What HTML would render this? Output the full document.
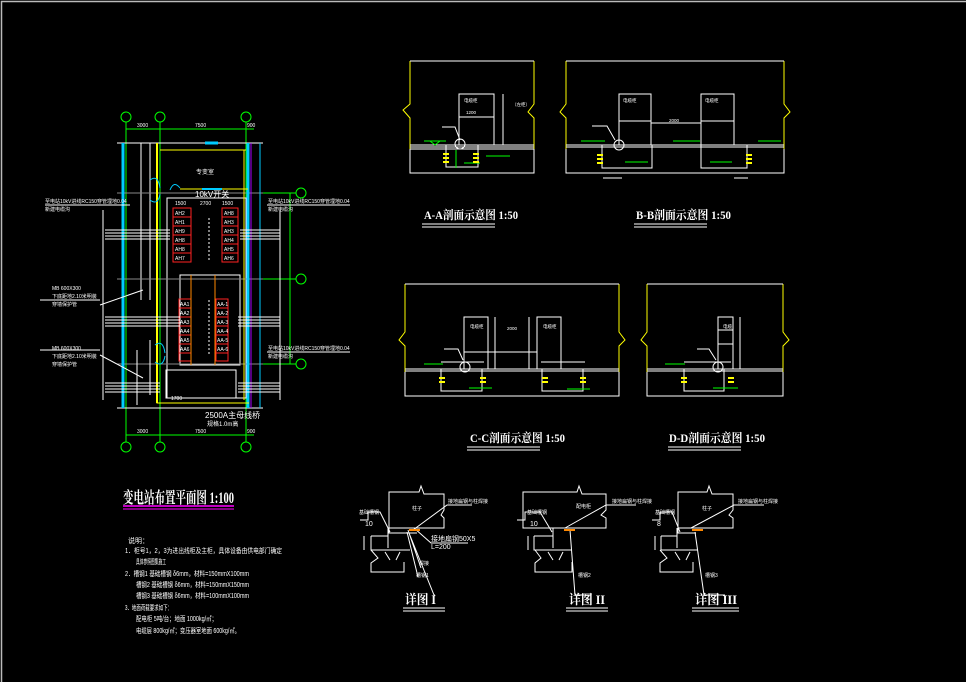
<!DOCTYPE html>
<html><head><meta charset="utf-8"><style>
html,body{margin:0;padding:0;background:#000;}
svg{display:block}
text{font-family:"Liberation Sans","Noto Sans CJK SC",sans-serif;fill:#fff}
.t{font-family:"Liberation Serif","Noto Serif CJK SC",serif;font-weight:bold}
</style></head><body>
<svg width="966" height="682" viewBox="0 0 966 682" xmlns="http://www.w3.org/2000/svg">
<rect x="0" y="0" width="966" height="682" fill="#000"/>
<path d="M1.5 682V1.5H966" stroke="#bbb" stroke-width="1.5" fill="none"/>

<g fill="none" stroke-width="1">
<g stroke="#0f0">
<line x1="126" y1="122" x2="126" y2="442"/><line x1="160" y1="122" x2="160" y2="442"/><line x1="246" y1="122" x2="246" y2="442"/>
<line x1="126" y1="129" x2="254" y2="129"/><line x1="126" y1="435" x2="254" y2="435"/>
<line x1="246" y1="193" x2="296" y2="193"/><line x1="246" y1="279" x2="296" y2="279"/><line x1="246" y1="364" x2="296" y2="364"/>
<line x1="290" y1="193" x2="290" y2="364"/>
<circle cx="126" cy="117" r="5"/><circle cx="160" cy="117" r="5"/><circle cx="246" cy="117" r="5"/>
<circle cx="126" cy="447" r="5"/><circle cx="160" cy="447" r="5"/><circle cx="246" cy="447" r="5"/>
<circle cx="301" cy="193" r="5"/><circle cx="301" cy="279" r="5"/><circle cx="301" cy="364" r="5"/>
</g>
<g stroke="#fff">
<line x1="117" y1="143" x2="263" y2="143"/><line x1="117" y1="408" x2="263" y2="408"/>
<line x1="141" y1="143" x2="141" y2="300"/><line x1="150" y1="143" x2="150" y2="300"/>
<rect x="167" y="198" width="79" height="200"/>
<rect x="180" y="275" width="35" height="90"/>
<rect x="215" y="275" width="25" height="90"/>
<line x1="117" y1="193" x2="263" y2="193" stroke="#888"/>
<line x1="117" y1="279" x2="263" y2="279" stroke="#888"/>
<line x1="117" y1="364" x2="263" y2="364" stroke="#888"/>
<line x1="137" y1="350" x2="137" y2="405"/><line x1="150" y1="340" x2="150" y2="395"/>
<rect x="166" y="370" width="70" height="28"/>
</g>
<line x1="123" y1="143" x2="123" y2="408" stroke="#0cf" stroke-width="3"/>
<line x1="248" y1="143" x2="248" y2="408" stroke="#0cf" stroke-width="3"/>
<line x1="251" y1="143" x2="251" y2="408" stroke="#a0f" stroke-width="1"/>
<line x1="260" y1="143" x2="260" y2="408" stroke="#0cf" stroke-width="1"/>
<g stroke="#ff0">
<path d="M157 143V403H249"/><path d="M160 150H246"/><path d="M180 189H248"/>
<line x1="157" y1="143" x2="157" y2="403" stroke-width="2"/>
<line x1="244" y1="150" x2="244" y2="400"/>
</g>
<line x1="205" y1="143" x2="218" y2="143" stroke="#0cf" stroke-width="3"/>
<line x1="202" y1="189" x2="222" y2="189" stroke="#0cf" stroke-width="2"/>
<path d="M150 180q8 -6 10 8M150 200q8 6 10 -6M170 190q4 -10 10 -2" stroke="#0cf"/>
<path d="M155 345q8 -6 10 8M155 362q8 6 10 -6" stroke="#0cf"/>
<g stroke="#f22">
<rect x="173" y="208" width="18" height="54"/><rect x="222" y="208" width="16" height="54"/>
<line x1="173" y1="217" x2="191" y2="217"/><line x1="173" y1="226" x2="191" y2="226"/><line x1="173" y1="235" x2="191" y2="235"/><line x1="173" y1="244" x2="191" y2="244"/><line x1="173" y1="253" x2="191" y2="253"/>
<line x1="222" y1="217" x2="238" y2="217"/><line x1="222" y1="226" x2="238" y2="226"/><line x1="222" y1="235" x2="238" y2="235"/><line x1="222" y1="244" x2="238" y2="244"/><line x1="222" y1="253" x2="238" y2="253"/>
<rect x="179" y="299" width="12" height="62"/><rect x="216" y="299" width="12" height="62"/>
<path d="M179 308h12M179 317h12M179 326h12M179 335h12M179 344h12M179 353h12M216 308h12M216 317h12M216 326h12M216 335h12M216 344h12M216 353h12"/>
</g>
<line x1="191" y1="275" x2="191" y2="365" stroke="#f80"/><line x1="215" y1="275" x2="215" y2="365" stroke="#f80"/>
<g stroke="#fff">
<path d="M105 230H170M105 233H170M105 236H170M105 239H170"/>
<path d="M240 230H280M240 233H280M240 236H280M240 239H280"/>
<path d="M105 317H180M105 320H180M105 323H180M105 326H180"/>
<path d="M238 317H280M238 320H280M238 323H280M238 326H280"/>
<path d="M105 383H160M105 386H160M105 389H160M105 392H160"/>
<path d="M238 383H280M238 386H280M238 389H280M238 392H280"/>
<line x1="103" y1="210" x2="103" y2="400"/><line x1="280" y1="210" x2="280" y2="400"/>
<path d="M45 205H130M40 300H100M40 350H100M267 205H350M267 352H350"/>
<path d="M100 305L143 290M100 355L143 378"/>
</g>
<g stroke="#fff" stroke-dasharray="2 2"><line x1="209" y1="218" x2="209" y2="260"/><line x1="209" y1="300" x2="209" y2="355"/></g>
</g>
<g font-size="5">
<text x="137" y="127">3000</text><text x="195" y="127">7500</text><text x="247" y="127">900</text>
<text x="137" y="433">3000</text><text x="195" y="433">7500</text><text x="247" y="433">900</text>
<text x="196" y="174" font-size="6">专变室</text>
<text x="195" y="197" font-size="8">10kV开关</text>
<text x="175" y="205">1500</text><text x="200" y="205">2700</text><text x="222" y="205">1500</text>
<text x="175" y="215">AH2</text><text x="175" y="224">AH1</text><text x="175" y="233">AH9</text><text x="175" y="242">AH8</text><text x="175" y="251">AH8</text><text x="175" y="260">AH7</text>
<text x="224" y="215">AH8</text><text x="224" y="224">AH3</text><text x="224" y="233">AH3</text><text x="224" y="242">AH4</text><text x="224" y="251">AH5</text><text x="224" y="260">AH6</text>
<text x="180" y="306">AA1</text><text x="180" y="315">AA2</text><text x="180" y="324">AA3</text><text x="180" y="333">AA4</text><text x="180" y="342">AA5</text><text x="180" y="351">AA6</text>
<text x="217" y="306">AA-1</text><text x="217" y="315">AA-2</text><text x="217" y="324">AA-3</text><text x="217" y="333">AA-4</text><text x="217" y="342">AA-5</text><text x="217" y="351">AA-6</text>
<text x="205" y="418" font-size="8">2500A主母线桥</text><text x="207" y="426" font-size="6">规格1.0m高</text>
<text x="45" y="203">至电站10kV进线RC150穿管埋地0.04</text><text x="45" y="211">新建电缆沟</text>
<text x="268" y="203">至电站10kV进线RC150穿管埋地0.04</text><text x="268" y="211">新建电缆沟</text>
<text x="268" y="350">至电站10kV进线RC150穿管埋地0.04</text><text x="268" y="358">新建电缆沟</text>
<text x="52" y="290">MB 600X300</text><text x="52" y="298">下底距地2.10米明装</text><text x="52" y="306">穿墙保护管</text>
<text x="52" y="350">MB 600X300</text><text x="52" y="358">下底距地2.10米明装</text><text x="52" y="366">穿墙保护管</text>
<text x="171" y="400">1700</text>
</g>
<text x="123" y="503" class="t" font-size="16" textLength="111" lengthAdjust="spacingAndGlyphs">变电站布置平面图 1:100</text>
<line x1="123" y1="506" x2="234" y2="506" stroke="#f0f" stroke-width="1.5"/>
<line x1="123" y1="509" x2="234" y2="509" stroke="#f0f" stroke-width="1"/>
<g font-size="7">
<text x="128" y="543">说明：</text>
<text x="125" y="553" textLength="157" lengthAdjust="spacingAndGlyphs">1．柜号1，2，3为进出线柜及主柜，具体设备由供电部门确定</text>
<text x="136" y="564" textLength="30" lengthAdjust="spacingAndGlyphs">具体参照图集施工</text>
<text x="125" y="576" textLength="124" lengthAdjust="spacingAndGlyphs">2．槽钢1 基础槽钢 δ6mm，材料=150mmX100mm</text>
<text x="136" y="587" textLength="113" lengthAdjust="spacingAndGlyphs">槽钢2 基础槽钢 δ6mm，材料=150mmX150mm</text>
<text x="136" y="598" textLength="113" lengthAdjust="spacingAndGlyphs">槽钢3 基础槽钢 δ6mm，材料=100mmX100mm</text>
<text x="125" y="610" textLength="47" lengthAdjust="spacingAndGlyphs">3．地面荷载要求如下：</text>
<text x="136" y="621" textLength="81" lengthAdjust="spacingAndGlyphs">配电柜 5吨/台；地面 1000kg/㎡；</text>
<text x="136" y="633" textLength="104" lengthAdjust="spacingAndGlyphs">电缆层 800kg/㎡；变压器室地面 600kg/㎡。</text>
</g>

<g fill="none" stroke-width="1">
<path d="M410 61V104L403 110L410 118V149" stroke="#ff0"/><path d="M534 61V104L528 112L534 118V149" stroke="#ff0"/>
<line x1="410" y1="61" x2="534" y2="61" stroke="#fff"/>
<g stroke="#fff">
<path d="M410 149V173H534V149"/><path d="M410 145H534M410 147H534M410 149H534"/>
<rect x="459" y="94" width="35" height="51"/><line x1="459" y1="117" x2="494" y2="117"/>
<rect x="446" y="145" width="32" height="22"/><line x1="503" y1="94" x2="503" y2="145"/>
<circle cx="460" cy="144" r="5"/><path d="M442 127H455L460 140"/>
</g>
<g stroke="#0f0"><path d="M424 141H446L430 141l5 4 5-4"/><path d="M486 156H510M464 163H480"/><line x1="456" y1="150" x2="456" y2="168"/></g>
<g stroke="#ff0" stroke-width="2"><path d="M443 154h6M443 158h6M443 162h6M473 154h6M473 158h6M473 162h6"/></g>
<path d="M566 61V104L560 112L566 118V149" stroke="#ff0"/><path d="M784 61V104L790 112L784 118V149" stroke="#ff0"/>
<line x1="566" y1="61" x2="784" y2="61" stroke="#fff"/>
<g stroke="#fff">
<path d="M566 149V173H784V149"/><path d="M566 145H784M566 147H784"/>
<rect x="619" y="94" width="32" height="51"/><line x1="619" y1="121" x2="651" y2="121"/>
<rect x="701" y="94" width="33" height="51"/><line x1="701" y1="121" x2="734" y2="121"/>
<line x1="651" y1="123" x2="701" y2="123"/>
<rect x="602" y="145" width="50" height="23"/><rect x="701" y="145" width="46" height="23"/>
<circle cx="619" cy="145" r="5"/><path d="M592 126H607L615 140"/>
<path d="M603 178H622M734 178H748"/>
</g>
<g stroke="#0f0"><path d="M581 141H605M673 141H700M758 141H781M625 162H648M710 162H732"/></g>
<g stroke="#ff0" stroke-width="2"><path d="M597 155h6M597 159h6M597 163h6M746 155h6M746 159h6M746 163h6"/></g>
<path d="M405 284V332L399 340L405 346V372" stroke="#ff0"/><path d="M619 284V332L625 340L619 346V372" stroke="#ff0"/>
<line x1="405" y1="284" x2="619" y2="284" stroke="#fff"/>
<g stroke="#fff">
<path d="M405 372V396H619V372"/><path d="M405 369H619M405 371H619"/>
<rect x="464" y="317" width="24" height="52"/><rect x="537" y="317" width="24" height="52"/>
<line x1="464" y1="352" x2="537" y2="352"/><line x1="495" y1="317" x2="495" y2="369"/><line x1="529" y1="317" x2="529" y2="369"/>
<rect x="441" y="369" width="41" height="22"/><rect x="542" y="369" width="41" height="22"/>
<circle cx="465" cy="367" r="5"/><path d="M444 349H458L463 360"/>
<path d="M441 362H484M541 362H585"/>
</g>
<g stroke="#0f0"><path d="M424 364H443M469 388H492M567 389H590"/></g>
<g stroke="#ff0" stroke-width="2"><path d="M439 378h6M439 382h6M480 378h6M480 382h6M542 378h6M542 382h6M580 378h6M580 382h6"/></g>
<path d="M647 284V332L641 340L647 346V372" stroke="#ff0"/><path d="M783 284V332L789 340L783 346V372" stroke="#ff0"/>
<line x1="647" y1="284" x2="783" y2="284" stroke="#fff"/>
<g stroke="#fff">
<path d="M647 372V396H783V372"/><path d="M647 369H783M647 371H783"/>
<rect x="718" y="317" width="15" height="52"/><line x1="718" y1="330" x2="733" y2="330"/><line x1="718" y1="344" x2="733" y2="344"/>
<line x1="740" y1="317" x2="740" y2="369"/>
<rect x="684" y="369" width="40" height="22"/>
<circle cx="718" cy="367" r="5"/><path d="M697 349H709L716 360"/>
<path d="M684 362H731"/>
</g>
<g stroke="#0f0"><path d="M665 364H685M713 388H738"/></g>
<g stroke="#ff0" stroke-width="2"><path d="M681 378h6M681 382h6M728 378h6M728 382h6"/></g>
</g>
<g font-size="4.5">
<text x="464" y="102">电缆柜</text><text x="466" y="114">1200</text><text x="512" y="106">（左柜）</text>
<text x="623" y="102">电缆柜</text><text x="705" y="102">电缆柜</text><text x="669" y="122">2000</text>
<text x="470" y="328">电缆柜</text><text x="543" y="328">电缆柜</text><text x="507" y="330">2000</text><text x="723" y="328">电缆</text>
</g>
<g class="t" font-size="12">
<text x="424" y="219" class="t" textLength="94" lengthAdjust="spacingAndGlyphs">A-A剖面示意图 1:50</text>
<text x="636" y="219" class="t" textLength="95" lengthAdjust="spacingAndGlyphs">B-B剖面示意图 1:50</text>
<text x="470" y="442" class="t" textLength="95" lengthAdjust="spacingAndGlyphs">C-C剖面示意图 1:50</text>
<text x="669" y="442" class="t" textLength="96" lengthAdjust="spacingAndGlyphs">D-D剖面示意图 1:50</text>
</g>
<g stroke="#fff" stroke-width="1">
<path d="M422 224H495M422 227H495"/><path d="M634 224H707M634 227H707"/>
<path d="M467 447H540M467 450H540"/><path d="M668 447H741M668 450H741"/>
</g>

<g fill="none" stroke="#fff" stroke-width="1">
<path d="M389 492H419L421 486L424 494H444V510L441 515L444 518V528H389Z"/>
<path d="M389 526V533H417"/><path d="M371 536H388V528M371 536V550H410"/><path d="M388 533V548"/>
<path d="M371 550L378 558L371 563V572H404V562"/><path d="M385 552L390 560M400 552L396 560"/>
<path d="M408 530L421 568M409 533L434 595H435M407 532L418 577"/>
<path d="M413 530L447 505H472M414 528L431 543H468"/>
<path d="M360 520H368V512H380L390 532"/><line x1="364" y1="536" x2="364" y2="550"/>
<path d="M523 492H577L579 486L582 494H606V510L601 515L606 518V528H523Z"/>
<path d="M533 528H583"/><path d="M534 536H553V528M534 536V550H572"/><path d="M553 533V548"/>
<path d="M535 550L541 558L535 563V572H572V562"/><path d="M548 552L553 560M563 552L559 560"/>
<path d="M570 530L575 595H591"/><path d="M565 528L606 505H636"/>
<path d="M517 520H525V512H540L552 532"/><line x1="528" y1="536" x2="528" y2="550"/>
<path d="M678 492H707L709 486L712 494H733V510L729 515L733 518V528H678Z"/>
<path d="M678 526V533H696"/><path d="M661 536H677V528M661 536V550H698"/><path d="M677 533V548"/>
<path d="M660 550L667 558L660 563V572H693V562"/><path d="M675 552L680 560M690 552L686 560"/>
<path d="M695 532L704 595H725"/><path d="M691 528L734 505H764"/>
<path d="M652 520H660V512H672L680 532"/><line x1="655" y1="536" x2="655" y2="550"/>
</g>
<g stroke="#f80" stroke-width="2"><path d="M409 530h11M564 530h11M692 530h11"/></g>
<g font-size="5">
<text x="412" y="510">柱子</text><text x="448" y="503">接地扁钢与柱焊接</text><text x="431" y="541" font-size="7">接地扁钢50X5</text><text x="431" y="549" font-size="7">L=200</text>
<text x="359" y="514">基础槽钢</text><text x="365" y="526" font-size="7">10</text><text x="419" y="565">焊接</text><text x="416" y="577">槽钢1</text>
<text x="576" y="508">配电柜</text><text x="612" y="503">接地扁钢与柱焊接</text><text x="527" y="514">基础槽钢</text><text x="530" y="526" font-size="7">10</text><text x="578" y="577">槽钢2</text>
<text x="702" y="510">柱子</text><text x="738" y="503">接地扁钢与柱焊接</text><text x="655" y="514">基础槽钢</text><text x="657" y="526" font-size="7">8</text><text x="705" y="577">槽钢3</text>
</g>
<g class="t" font-size="13">
<text x="405" y="604" class="t" textLength="31" lengthAdjust="spacingAndGlyphs">详图 I</text><text x="569" y="604" class="t" textLength="36" lengthAdjust="spacingAndGlyphs">详图 II</text><text x="695" y="604" class="t" textLength="42" lengthAdjust="spacingAndGlyphs">详图 III</text>
</g>
<g stroke="#fff"><path d="M403 608H445M403 611H445M566 608H608M566 611H608M692 608H739M692 611H739"/></g>
</svg>
</body></html>
